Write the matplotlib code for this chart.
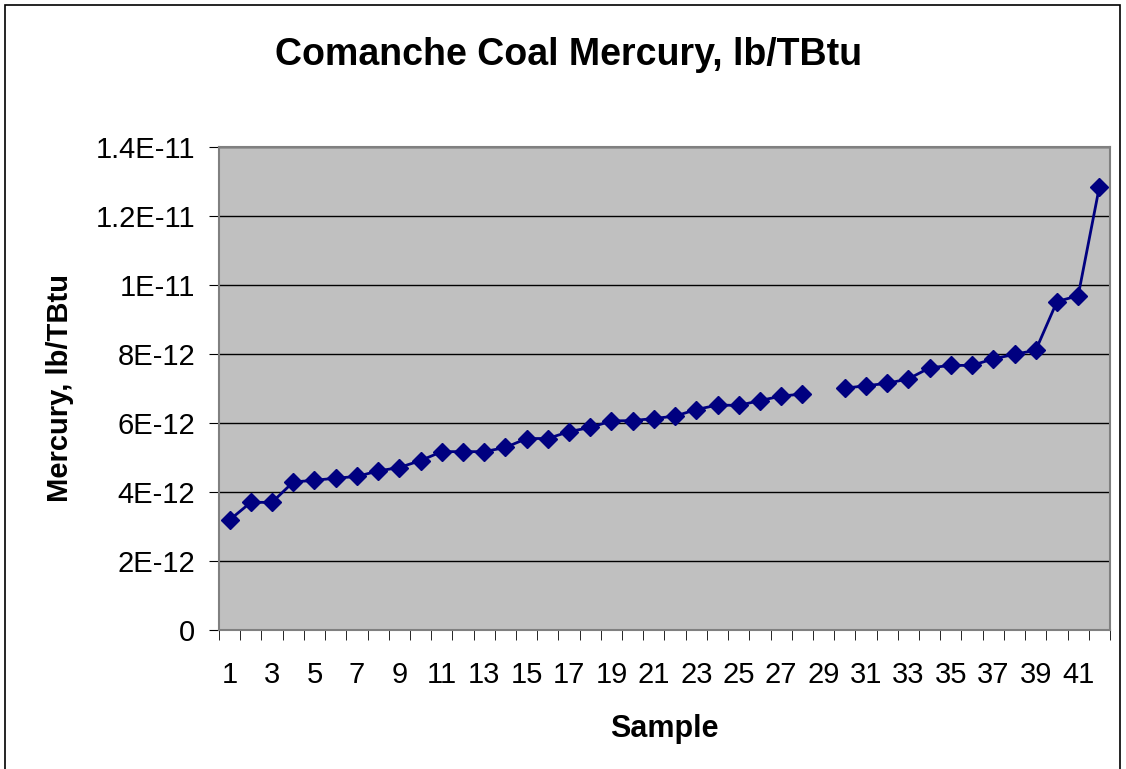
import numpy as np
import matplotlib.pyplot as plt
from matplotlib.patches import Rectangle

plt.rcParams['font.family'] = ['Liberation Sans', 'DejaVu Sans']

# sample numbers and mercury values (lb/TBtu), sample 29 has no value
samples = list(range(1, 43))
mercury = [3.19e-12, 3.70e-12, 3.70e-12, 4.29e-12, 4.34e-12, 4.40e-12, 4.45e-12,
           4.61e-12, 4.71e-12, 4.91e-12, 5.17e-12, 5.17e-12, 5.17e-12, 5.29e-12,
           5.55e-12, 5.55e-12, 5.75e-12, 5.87e-12, 6.06e-12, 6.07e-12, 6.13e-12,
           6.20e-12, 6.39e-12, 6.52e-12, 6.51e-12, 6.65e-12, 6.78e-12, 6.84e-12,
           np.nan, 7.01e-12, 7.08e-12, 7.15e-12, 7.28e-12, 7.60e-12, 7.67e-12,
           7.67e-12, 7.86e-12, 7.99e-12, 8.11e-12, 9.52e-12, 9.69e-12, 12.85e-12]

ytick_vals = [0, 2e-12, 4e-12, 6e-12, 8e-12, 1e-11, 1.2e-11, 1.4e-11]
ytick_labels = ["0", "2E-12", "4E-12", "6E-12", "8E-12", "1E-11", "1.2E-11", "1.4E-11"]
xtick_vals = list(range(1, 42, 2))

W, H = 1126, 769
fig = plt.figure(figsize=(W/100, H/100), dpi=100)
ax = fig.add_axes([219/W, 1 - 630/H, (1110-219)/W, (630-147)/H])
ax.set_facecolor('#C0C0C0')

ax.plot(samples, mercury, color='#000080', lw=2, marker='D', markersize=9,
        markerfacecolor='#000080', markeredgecolor='#000080', zorder=3)

ax.set_xlim(0.5, 42.5)
ax.set_ylim(0, 1.4e-11)
ax.set_yticks(ytick_vals)
ax.set_yticklabels(ytick_labels, fontsize=21)
ax.yaxis.grid(True, color='black', lw=1)
ax.set_axisbelow(True)

ax.set_xticks(xtick_vals)
ax.set_xticklabels([str(v) for v in xtick_vals], fontsize=21,
                   family=['Liberation Sans Narrow', 'Liberation Sans'])
ax.set_xticks(np.arange(0.5, 43, 1), minor=True)
ax.tick_params(axis='x', which='major', length=0, pad=22)
ax.tick_params(axis='x', which='minor', length=7, direction='out', color='black')
ax.tick_params(axis='y', length=7, direction='out', color='black', pad=10)

for s in ax.spines.values():
    s.set_color('#808080')
    s.set_linewidth(1.5)

ax.set_xlabel('Sample', fontsize=22, fontweight='bold', labelpad=18)
ax.set_ylabel('Mercury, lb/TBtu', fontsize=21, fontweight='bold', labelpad=16)
fig.text(569/W, 1 - 55/H, 'Comanche Coal Mercury, lb/TBtu', fontsize=27,
         fontweight='bold', ha='center', va='center')

# chart border (bottom edge runs past the image)
fig.patches.append(Rectangle((5/W, -0.02), (1120-5)/W, 1.02 - 5/H, transform=fig.transFigure,
                             fill=False, edgecolor='black', lw=1.2))

fig.savefig('out.png', dpi=100)
